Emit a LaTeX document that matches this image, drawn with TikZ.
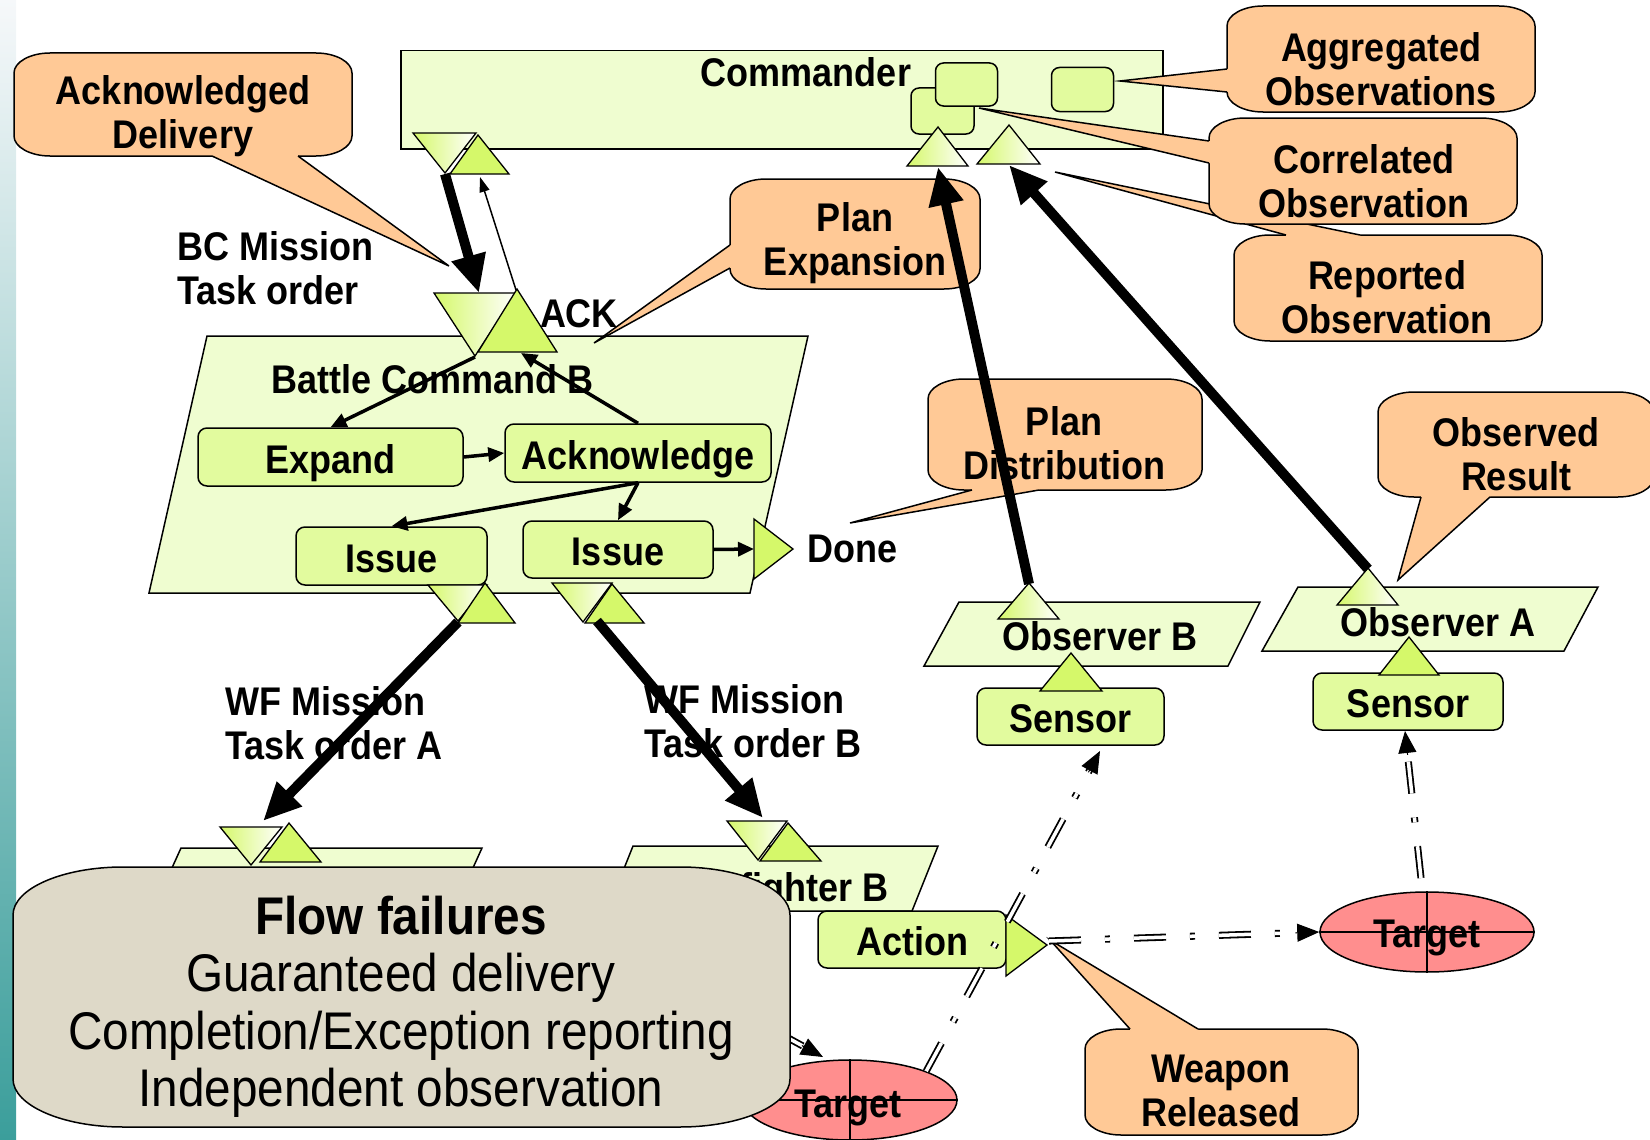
\documentclass[tikz,border=0pt]{standalone}
\usepackage{fontspec}
\setmainfont{Liberation Sans}[FakeStretch=0.9]
\usetikzlibrary{arrows.meta,shapes.geometric,calc}

\definecolor{frame}{HTML}{EFFDD0}
\definecolor{boxgreen}{HTML}{E2FB9E}
\definecolor{portgreen}{HTML}{D5F86A}
\definecolor{peach}{HTML}{FFC996}
\definecolor{flowgray}{HTML}{DED9C8}
\definecolor{targetred}{HTML}{FF8E8E}
\definecolor{stripTop}{HTML}{F6F8FA}
\definecolor{stripMid}{HTML}{D0E4E2}
\definecolor{stripBottom}{HTML}{3B9E9B}

\newcommand\lblfont{\bfseries\fontsize{40}{44}\selectfont}

% rounded rectangle with elliptic corners: x1,y1,x2,y2,rx,ry,style
\newcommand\softbox[7]{%
  \path[#7] (#1+#5,#2) -- (#3-#5,#2)
    .. controls (#3-0.45*#5,#2) and (#3,#2+0.45*#6) .. (#3,#2+#6)
    -- (#3,#4-#6)
    .. controls (#3,#4-0.45*#6) and (#3-0.45*#5,#4) .. (#3-#5,#4)
    -- (#1+#5,#4)
    .. controls (#1+0.45*#5,#4) and (#1,#4-0.45*#6) .. (#1,#4-#6)
    -- (#1,#2+#6)
    .. controls (#1,#2+0.45*#6) and (#1+0.45*#5,#2) .. (#1+#5,#2) -- cycle;}

% speech bubble: box x1,y1,x2,y2; tail base1, tip, base2; inward shift
\newcommand\bubble[8]{%
  \softbox{#1}{#2}{#3}{#4}{36}{20}{draw=black, line width=1.5pt, fill=peach}
  \fill[peach] (#5) -- (#6) -- (#7) -- ($(#7)+(#8)$) -- ($(#5)+(#8)$) -- cycle;
  \draw[line width=1.5pt] (#5) -- (#6) -- (#7);}

\begin{document}
\begin{tikzpicture}[x=1pt,y=-1pt,
  frameshape/.style={draw, line width=1.5pt, fill=frame},
  box/.style={draw, line width=1.5pt, fill=boxgreen, rounded corners=9pt,
    font=\lblfont, text height=34pt, text depth=2pt, inner sep=0pt},
  sqbox/.style={draw, line width=1.5pt, fill=boxgreen, rounded corners=8pt, inner sep=0pt},
  lbl/.style={font=\lblfont, text height=34pt, text depth=2pt, inner sep=0pt},
  note/.style={font=\lblfont, align=center, inner sep=0pt},
  pin/.style={draw, line width=1.3pt, fill=portgreen},
  pinshade/.style={draw, line width=1.3pt, left color=portgreen, right color=white},
  flowthin/.style={line width=3.5pt, -{Triangle[length=16pt,width=14pt]}},
  flowhair/.style={line width=1.5pt, -{Triangle[length=15pt,width=10pt]}},
  flowthick/.style={line width=10pt, -{Triangle[length=38pt,width=33pt]}},
  ddash/.style={line width=1.8pt, double=white, double distance=3.5pt,
    dash pattern=on 32pt off 24pt on 5pt off 24pt},
  tiponly/.style={line width=1pt, -{Triangle[length=22pt,width=18pt]}},
  target/.style={draw, line width=1.5pt, fill=targetred, ellipse,
    minimum width=214pt, minimum height=80pt, inner sep=0pt},
]
\useasboundingbox (0,0) rectangle (1650,1140);

% side strip
\shade[top color=stripTop, middle color=stripMid, bottom color=stripBottom] (0,0) rectangle (16,1140);

% containers
\node[frameshape, anchor=north west, minimum width=762pt, minimum height=98pt, inner sep=0pt] (commander) at (400,50) {};
\node[lbl] (commanderText) at (806,70) {Commander};

\draw[frameshape] (207,336) -- (808,336) -- (750,593) -- (149,593) -- cycle;
\node[lbl] (bcText) at (433,377) {Battle Command B};

\draw[frameshape] (959,602) -- (1260,602) -- (1228,666) -- (924,666) -- cycle;
\node[lbl] (obsBText) at (1100,634) {Observer B};

\draw[frameshape] (1298,587) -- (1598,587) -- (1564,651) -- (1262,651) -- cycle;
\node[lbl] (obsAText) at (1438,620) {Observer A};

\draw[frameshape] (181,848) -- (482,848) -- (453,912) -- (152,912) -- cycle;
\draw[frameshape] (633,846) -- (938,846) -- (912,911) -- (607,911) -- cycle;
\node[lbl, anchor=east] (wfBText) at (889,885) {Warfighter B};

% commander stores
\node[sqbox, minimum width=63pt, minimum height=46pt] (sqBack) at (942.5,111) {};
\node[sqbox, minimum width=62pt, minimum height=43pt] (sqFront) at (966.5,84.5) {};
\node[sqbox, minimum width=62pt, minimum height=44pt] (sqRight) at (1082.5,89.5) {};

% activity boxes
\node[box, minimum width=265pt, minimum height=58pt] (expand) at (330.5,457) {Expand};
\node[box, minimum width=266pt, minimum height=58pt] (ack) at (638,453) {Acknowledge};
\node[box, minimum width=191pt, minimum height=58pt] (issueA) at (391.5,556) {Issue};
\node[box, minimum width=190pt, minimum height=57pt] (issueB) at (618,549.5) {Issue};
\node[box, minimum width=187pt, minimum height=57pt] (sensorB) at (1070.5,716.5) {Sensor};
\node[box, minimum width=190pt, minimum height=57pt] (sensorA) at (1408,701.5) {Sensor};
\node[box, minimum width=188pt, minimum height=57pt] (action) at (912,939.5) {Action};

% ports
\draw[pinshade] (413,133) -- (476,133) -- (445,173) -- cycle;
\draw[pin] (478,135) -- (509,174) -- (450,174) -- cycle;
\coordinate (cmdOut) at (445,174);
\coordinate (cmdIn) at (480,177);

\draw[pinshade] (938,127) -- (968,166) -- (907,166) -- cycle;
\draw[pinshade] (1009,125) -- (1040,164) -- (977,164) -- cycle;
\coordinate (cmdObsB) at (938,167);
\coordinate (cmdObsA) at (1009,165);

\draw[pinshade] (434,293) -- (516,293) -- (475,356) -- cycle;
\draw[pin] (517,289) -- (557,352) -- (478,352) -- cycle;
\coordinate (bcTop) at (479,293);
\coordinate (bcIn) at (475,357);
\coordinate (bcAckTop) at (516,290);
\coordinate (bcAck) at (521,353);

\draw[pinshade] (428,585) -- (487,585) -- (458,621) -- cycle;
\draw[pin] (485,583) -- (515,623) -- (458,623) -- cycle;
\coordinate (issueAOut) at (458,622);

\draw[pinshade] (552,583) -- (612,583) -- (583,622) -- cycle;
\draw[pin] (612,584) -- (644,623) -- (585,623) -- cycle;
\coordinate (issueBOut) at (597,621);

\draw[pin] (754,519) -- (793,549) -- (754,579) -- cycle;
\coordinate (doneIn) at (754,549);
\node[lbl, anchor=west] (doneLabel) at (807,546) {Done};

\draw[pinshade] (220,827) -- (282,827) -- (251,865) -- cycle;
\draw[pin] (289,823) -- (321,862) -- (260,862) -- cycle;
\coordinate (wfAIn) at (263,821);

\draw[pinshade] (727,821) -- (787,821) -- (758,860) -- cycle;
\draw[pin] (788,823) -- (821,861) -- (760,861) -- cycle;
\coordinate (wfBIn) at (763,818);

\draw[pinshade] (1029,583) -- (1059,619) -- (998,619) -- cycle;
\draw[pin] (1071,653) -- (1102,691) -- (1040,691) -- cycle;
\coordinate (obsBOut) at (1029,584);

\draw[pinshade] (1368,568) -- (1398,605) -- (1337,605) -- cycle;
\draw[pin] (1409,637) -- (1439,675) -- (1379,675) -- cycle;
\coordinate (obsAOut) at (1368,569);

\draw[pin] (1006,915) -- (1047,945) -- (1006,976) -- cycle;
\coordinate (actionOut) at (1049,941);

% flows inside Battle Command B
\draw[flowthin] (bcIn) -- (expand.north);
\draw[flowthin] (expand.east) -- (ack.west);
\draw[flowthin] (ack.north) -- (bcAck);
\draw[flowthin] (ack.south) -- (issueA.north);
\draw[flowthin] (ack.south) -- (issueB.north);
\draw[flowthin] (issueB.east) -- (doneIn);

% targets
\node[target] (tgtR) at (1427,932) {};
\draw[line width=1.2pt] (tgtR.north) -- (tgtR.south) (tgtR.west) -- (tgtR.east);
\node[lbl] (tgtRText) at (1427,931) {Target};
\node[target] (tgtB) at (850,1100) {};
\draw[line width=1.2pt] (tgtB.north) -- (tgtB.south) (tgtB.west) -- (tgtB.east);
\node[lbl] (tgtBText) at (848,1101) {Target};

% speech bubbles
\bubble{14}{53}{352}{156}{212,156}{449,266}{298,156}{0,-5}
\node[note] (ackDelivery) at (183,116) {Acknowledged\\Delivery};
\bubble{730}{179}{980}{289}{730,245}{594,343}{730,268}{5,0}
\node[note] (planExp) at (855,243) {Plan\\Expansion};
\bubble{928}{379}{1202}{490}{972,490}{850,523}{1039,490}{0,-5}
\node[note] (planDist) at (1064,443) {Plan\\Distribution};
\bubble{1378}{392}{1654}{497}{1421,497}{1398,580}{1490,497}{0,-5}
\node[note] (obsResult) at (1516,454) {Observed\\Result};
\bubble{1234}{235}{1542}{341}{1286,235}{1055,172}{1360,235}{0,5}
\node[note] (reported) at (1387,297) {Reported\\Observation};
\bubble{1209}{118}{1517}{224}{1209,141}{979,108}{1209,163}{5,0}
\node[note] (correlated) at (1364,181) {Correlated\\Observation};
\bubble{1227}{6}{1535}{112}{1227,69}{1120,81}{1227,92}{5,0}
\node[note] (aggregated) at (1381,69) {Aggregated\\Observations};
\bubble{1085}{1029}{1358}{1135}{1130,1029}{1050,940}{1198,1029}{0,5}
\node[note] (weapon) at (1221,1091) {Weapon\\Released};

% labels
\node[lbl] (ackLabel) at (579,311) {ACK};
\node[note, align=left, anchor=west] (bcTask) at (177,268) {BC Mission\\Task order};
\node[note, align=left, anchor=west] (wfTaskA) at (225,723) {WF Mission\\Task order A};
\node[note, align=left, anchor=west] (wfTaskB) at (644,721) {WF Mission\\Task order B};

% task orders and reports
\draw[flowthick] (cmdOut) -- (bcTop);
\draw[flowhair] (bcAckTop) -- (cmdIn);
\draw[flowthick] (issueAOut) -- (wfAIn);
\draw[flowthick] (issueBOut) -- (wfBIn);
\draw[flowthick] (obsBOut) -- (cmdObsB);
\draw[flowthick] (obsAOut) -- (cmdObsA);

% physical effects and observation
\coordinate (sbIn) at (1100,751);
\coordinate (saIn) at (1405,731);
\coordinate (tgtRTop) at (1421,878);
\coordinate (hiddenStart) at (700,990);
\coordinate (tgtBIn) at (823,1057);
\draw[ddash, shorten >=20pt] (actionOut) -- (tgtR.west);
\draw[tiponly] ($(tgtR.west)!24pt!(actionOut)$) -- (tgtR.west);
\draw[ddash, shorten >=20pt] (tgtB.north east) -- (sbIn);
\draw[tiponly] ($(sbIn)!24pt!(tgtB.north east)$) -- (sbIn);
\draw[ddash, shorten >=20pt] (tgtRTop) -- (saIn);
\draw[tiponly] ($(saIn)!24pt!(tgtRTop)$) -- (saIn);
\draw[ddash, shorten >=20pt] (hiddenStart) -- (tgtBIn);
\draw[tiponly] ($(tgtBIn)!24pt!(hiddenStart)$) -- (tgtBIn);

% summary panel
\softbox{13}{867}{790}{1127}{110}{48}{draw=black, line width=1.5pt, fill=flowgray}
\node[font=\fontsize{53}{57.5}\selectfont, align=center, inner sep=0pt] (flowText) at (401,1007)
  {{\bfseries Flow failures}\\Guaranteed delivery\\Completion/Exception reporting\\Independent observation};
\end{tikzpicture}
\end{document}
